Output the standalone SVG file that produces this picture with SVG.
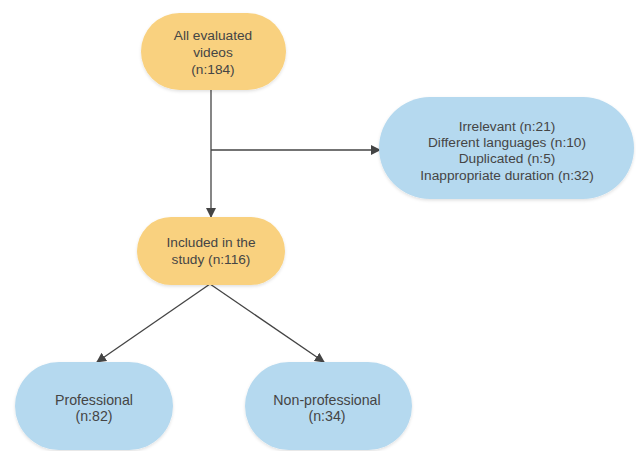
<svg xmlns="http://www.w3.org/2000/svg" width="636" height="451" viewBox="0 0 636 451">
<defs>
<marker id="ah" markerWidth="10" markerHeight="10" refX="9" refY="5" orient="auto" markerUnits="userSpaceOnUse">
<path d="M0,0 L10,5 L0,10 Z" fill="#444"/>
</marker>
<filter id="sh" x="-10%" y="-10%" width="120%" height="130%">
<feDropShadow dx="0" dy="1.5" stdDeviation="1.5" flood-color="#000" flood-opacity="0.12"/>
</filter>
<style>
.o{fill:#F9D17F;filter:url(#sh)}
.b{fill:#B5D9EF;filter:url(#sh)}
text{font-family:"Liberation Sans",Arial,sans-serif;font-size:13.7px;fill:#454545;text-anchor:middle}
.l{font-size:14.2px}
.c{stroke:#444;stroke-width:1.3;fill:none;marker-end:url(#ah)}
</style>
</defs>
<rect width="636" height="451" fill="#fff"/>
<g id="connectors">
<line class="c" x1="211" y1="90" x2="211" y2="217"/>
<line class="c" x1="211" y1="150" x2="380" y2="150"/>
<line class="c" x1="210" y1="284" x2="97" y2="362"/>
<line class="c" x1="210" y1="284" x2="324" y2="362"/>
</g>
<g id="all">
<rect class="o" x="141" y="13" width="145" height="77" rx="38.5"/>
<text x="213" y="40">All evaluated</text>
<text x="213" y="57">videos</text>
<text x="213" y="74">(n:184)</text>
</g>
<g id="excluded">
<rect class="b" x="379" y="97" width="255" height="102" rx="51"/>
<text x="507" y="131">Irrelevant (n:21)</text>
<text x="507" y="147">Different languages (n:10)</text>
<text x="507" y="163">Duplicated (n:5)</text>
<text x="507" y="180">Inappropriate duration (n:32)</text>
</g>
<g id="included">
<rect class="o" x="137" y="217" width="148" height="68" rx="34"/>
<text x="211" y="247">Included in the</text>
<text x="211" y="264">study (n:116)</text>
</g>
<g id="professional">
<rect class="b" x="15" y="362" width="158" height="88" rx="44"/>
<text class="l" x="94" y="405">Professional</text>
<text class="l" x="94" y="421">(n:82)</text>
</g>
<g id="nonprofessional">
<rect class="b" x="245" y="362" width="167" height="88" rx="44"/>
<text class="l" x="327" y="405">Non-professional</text>
<text class="l" x="327" y="421">(n:34)</text>
</g>
</svg>
